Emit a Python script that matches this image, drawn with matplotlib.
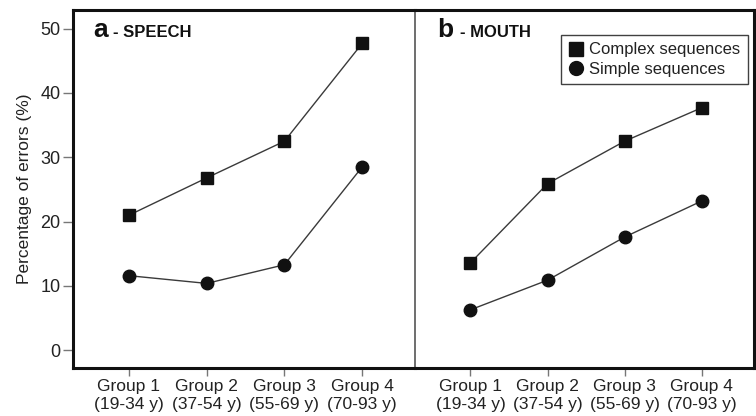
import matplotlib
matplotlib.use("Agg")
import matplotlib.pyplot as plt

plt.rcParams['font.family'] = ['Liberation Sans', 'DejaVu Sans']

groups = ["Group 1\n(19-34 y)", "Group 2\n(37-54 y)", "Group 3\n(55-69 y)", "Group 4\n(70-93 y)"]
speech_complex = [21.0, 26.8, 32.5, 47.7]
speech_simple = [11.6, 10.4, 13.3, 28.5]
mouth_complex = [13.6, 25.9, 32.5, 37.7]
mouth_simple = [6.3, 10.9, 17.6, 23.2]
yticks = [0, 10, 20, 30, 40, 50]

W, H = 756, 416
fig = plt.figure(figsize=(W/100, H/100), dpi=100)

x0, xm, x1 = 73, 415, 754
ytop, ybot = 10, 368
axL = fig.add_axes([x0/W, 1-ybot/H, (xm-x0)/W, (ybot-ytop)/H])
axR = fig.add_axes([xm/W, 1-ybot/H, (x1-xm)/W, (ybot-ytop)/H])
axR.patch.set_visible(False)

xs = list(range(len(groups)))
line_c = '#3a3a3a'
txt_c = '#222222'
fs = 12.5
for ax, comp, simp in [(axL, speech_complex, speech_simple), (axR, mouth_complex, mouth_simple)]:
    ax.plot(xs, comp, color=line_c, lw=1.0, marker='s', ms=8.5, mfc='#111111', mec='#111111',
            label='Complex sequences')
    ax.plot(xs, simp, color=line_c, lw=1.0, marker='o', ms=9, mfc='#111111', mec='#111111',
            label='Simple sequences')
    ax.set_xlim(-0.72, 3.68)
    ax.set_ylim(-2.75, 52.9)
    ax.set_xticks(xs)
    ax.set_xticklabels(groups, fontsize=fs, color=txt_c, linespacing=1.25)
    ax.tick_params(axis='x', direction='out', length=6, width=1, color='#777777', pad=2)
    for s in ['top', 'bottom']:
        ax.spines[s].set_linewidth(2.2)
        ax.spines[s].set_color('#111111')

axL.set_yticks(yticks)
axL.set_yticklabels([str(v) for v in yticks], fontsize=13, color=txt_c)
axL.tick_params(axis='y', direction='out', length=7, width=1, color='#777777', pad=2)
axL.set_ylabel("Percentage of errors (%)", fontsize=12.5, color=txt_c, labelpad=6)
axL.spines['left'].set_linewidth(2.2)
axL.spines['left'].set_color('#111111')
axL.spines['right'].set_visible(False)

axR.set_yticks([])
axR.spines['left'].set_linewidth(1.2)
axR.spines['left'].set_color('#555555')
axR.spines['right'].set_linewidth(2.2)
axR.spines['right'].set_color('#111111')

def panel_label(ax, letter, name, xl, xn):
    yb = 1 - (37 - 10) / 358
    ax.text(xl, yb, letter, transform=ax.transAxes, fontsize=19, fontweight='bold',
            va='baseline', ha='left', color='#111111')
    ax.text(xn, yb, name, transform=ax.transAxes, fontsize=12, fontweight='bold',
            va='baseline', ha='left', color='#111111')

panel_label(axL, "a", "- SPEECH", (93-73)/342, (113-73)/342)
panel_label(axR, "b", "- MOUTH", (437-415)/339, (460-415)/339)

handles = [plt.Line2D([], [], ls='none', marker='s', ms=9.5, mfc='#111111', mec='#111111'),
           plt.Line2D([], [], ls='none', marker='o', ms=10, mfc='#111111', mec='#111111')]
leg = axR.legend(handles, ['Complex sequences', 'Simple sequences'], loc='upper right',
                 bbox_to_anchor=((748-415)/339, 1-(35-10)/358), fontsize=12, frameon=True,
                 fancybox=False, handlelength=0.9, handletextpad=0.35, borderpad=0.45,
                 labelspacing=0.25, borderaxespad=0, handleheight=0.7)
leg.get_frame().set_edgecolor('#111111')
leg.get_frame().set_linewidth(1.0)
for t in leg.get_texts():
    t.set_color(txt_c)

fig.savefig("out.png", dpi=100)
